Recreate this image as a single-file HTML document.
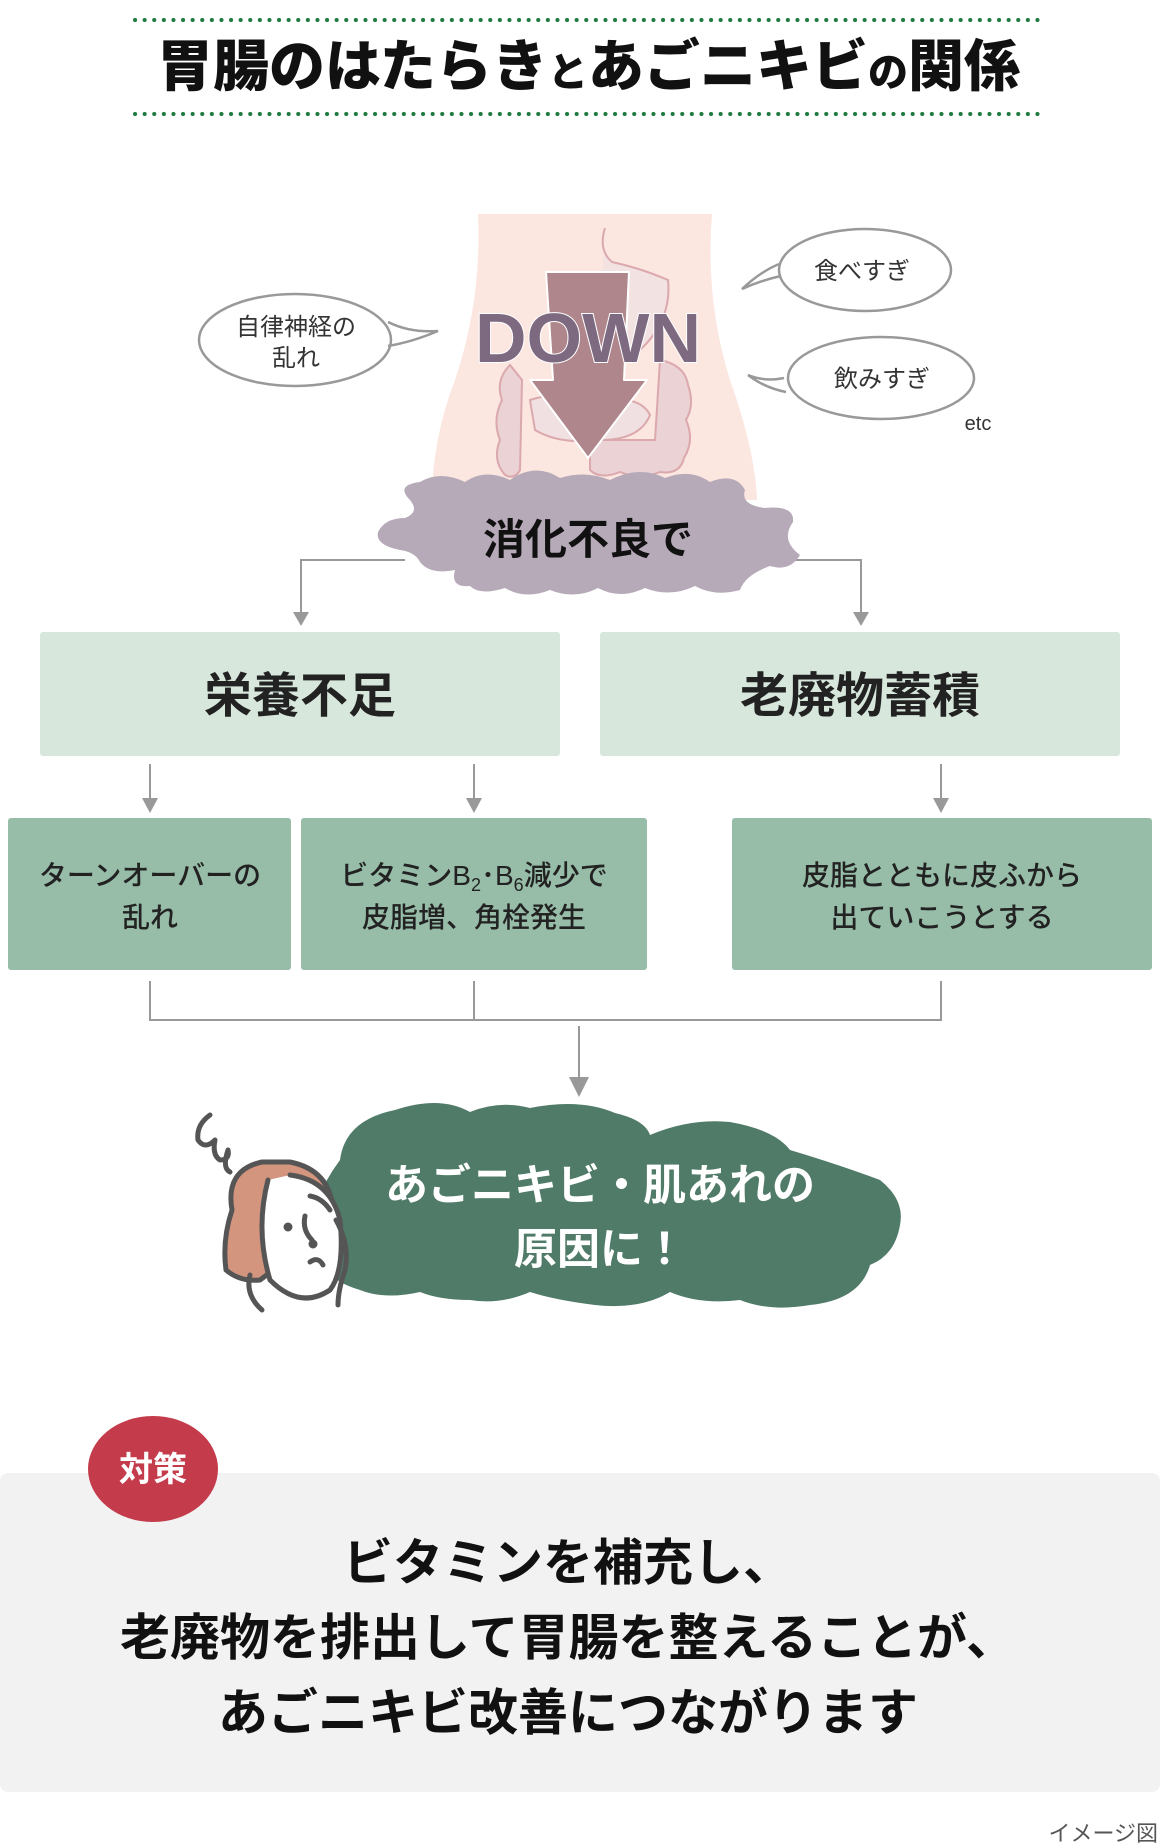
<!DOCTYPE html>
<html><head><meta charset="utf-8"><style>
html,body{margin:0;padding:0;background:#fff;}
svg{display:block;}
text{font-family:"Liberation Sans","Noto Sans CJK JP",sans-serif;}
</style></head><body>
<svg width="1160" height="1848" viewBox="0 0 1160 1848" xmlns="http://www.w3.org/2000/svg">
<!-- title -->
<line x1="135" y1="20" x2="1040" y2="20" stroke="#1f7a3f" stroke-width="4" stroke-dasharray="0.1 9.5" stroke-linecap="round"/>
<line x1="135" y1="114" x2="1040" y2="114" stroke="#1f7a3f" stroke-width="4" stroke-dasharray="0.1 9.5" stroke-linecap="round"/>
<text x="157" y="86" font-size="56" font-weight="900" fill="#111" textLength="863" lengthAdjust="spacingAndGlyphs">胃腸のはたらき<tspan font-size="40">と</tspan>あごニキビ<tspan font-size="40">の</tspan>関係</text>

<!-- body -->
<path d="M478 214 L712 214 Q705 300 730 380 Q755 450 757 500 L432 500 Q432 440 455 380 Q482 300 478 214 Z" fill="#fbe6e0"/>
<path d="M605 228 Q598 250 612 262 Q640 268 668 280 Q672 320 640 350 Q610 360 600 340" fill="#f2e2e2" stroke="#dba8ad" stroke-width="2"/>
<path d="M510 365 Q495 380 502 400 Q492 420 500 440 Q492 460 505 475 Q515 480 520 470 L522 380 Z" fill="#ead2d5" stroke="#dba8ad" stroke-width="2"/>
<path d="M660 360 Q685 365 688 385 Q695 405 686 420 Q695 440 684 458 Q680 475 660 472 Q640 480 620 472 Q600 480 590 470 L590 440 L655 440 Z" fill="#ead2d5" stroke="#dba8ad" stroke-width="2"/>
<path d="M530 400 Q560 390 600 400 Q640 395 650 415 Q640 440 600 440 Q560 445 535 430 Z" fill="#f0e0e2" stroke="#dba8ad" stroke-width="2"/>
<path d="M546 272 L629 272 L624 380 L647 380 L588 458 L530 380 L553 380 Z" fill="#af868b" stroke="#fff" stroke-width="2" stroke-linejoin="round"/>
<text x="475" y="362" font-size="70" font-weight="900" fill="#7e6a80" stroke="#fff" stroke-width="2" paint-order="stroke" textLength="226" lengthAdjust="spacingAndGlyphs" font-family="'DejaVu Sans','Liberation Sans',sans-serif">DOWN</text>

<!-- bubbles -->
<g fill="#fff" stroke="#999" stroke-width="2.5">
<ellipse cx="295" cy="340" rx="96" ry="46"/>
<ellipse cx="865" cy="270" rx="86" ry="41"/>
<ellipse cx="881" cy="378" rx="93" ry="41"/>
</g>
<g fill="none" stroke="#999" stroke-width="2.5">
<path d="M388 322 Q410 333 438 331 Q412 342 388 346"/>
<path d="M779 264 Q760 272 742 289 Q762 280 781 276"/>
<path d="M784 378 Q765 382 748 375 Q765 388 786 392"/>
</g>
<text x="296" y="335" text-anchor="middle" font-size="24" fill="#333">自律神経の</text>
<text x="296" y="366" text-anchor="middle" font-size="24" fill="#333">乱れ</text>
<text x="862" y="279" text-anchor="middle" font-size="24" fill="#333">食べすぎ</text>
<text x="882" y="387" text-anchor="middle" font-size="24" fill="#333">飲みすぎ</text>
<text x="978" y="430" text-anchor="middle" font-size="20" fill="#333">etc</text>

<!-- connectors top -->
<g stroke="#999" stroke-width="2" fill="none">
<polyline points="405,560 301,560 301,612"/>
<polyline points="775,560 861,560 861,612"/>
</g>
<g fill="#999">
<path d="M293 612 L309 612 L301 626 Z"/>
<path d="M853 612 L869 612 L861 626 Z"/>
</g>

<!-- gray cloud -->
<path d="M410 500 Q395 485 420 482 Q440 470 465 482 Q485 468 510 480 Q535 462 560 478 Q585 470 610 480 Q640 465 665 478 Q690 468 710 482 Q735 472 745 490 Q740 505 765 508 Q795 505 793 522 Q780 540 800 555 Q790 572 770 566 Q745 575 740 590 Q715 597 695 586 Q670 598 645 588 Q620 600 598 588 Q575 600 550 590 Q525 600 505 588 Q480 596 470 586 Q450 588 455 570 Q430 575 420 562 Q415 552 400 550 Q375 545 378 532 Q385 518 405 518 Q420 512 410 500 Z" fill="#b6aab8"/>
<text x="588" y="554" text-anchor="middle" font-size="42" font-weight="700" fill="#111">消化不良で</text>

<!-- level 1 boxes -->
<rect x="40" y="632" width="520" height="124" rx="3" fill="#d7e7dc"/>
<rect x="600" y="632" width="520" height="124" rx="3" fill="#d7e7dc"/>
<text x="300" y="712" text-anchor="middle" font-size="48" font-weight="700" fill="#222">栄養不足</text>
<text x="860" y="712" text-anchor="middle" font-size="48" font-weight="700" fill="#222">老廃物蓄積</text>

<g stroke="#999" stroke-width="2">
<line x1="150" y1="764" x2="150" y2="800"/>
<line x1="474" y1="764" x2="474" y2="800"/>
<line x1="941" y1="764" x2="941" y2="800"/>
</g>
<g fill="#999">
<path d="M142 798 L158 798 L150 813 Z"/>
<path d="M466 798 L482 798 L474 813 Z"/>
<path d="M933 798 L949 798 L941 813 Z"/>
</g>

<!-- level 2 boxes -->
<rect x="8" y="818" width="283" height="152" rx="3" fill="#97bda9"/>
<rect x="301" y="818" width="346" height="152" rx="3" fill="#97bda9"/>
<rect x="732" y="818" width="420" height="152" rx="3" fill="#97bda9"/>
<g font-size="28" fill="#222" text-anchor="middle" font-weight="500">
<text x="150" y="885">ターンオーバーの</text>
<text x="150" y="927">乱れ</text>
<text x="474" y="885">ビタミンB<tspan font-size="18" dy="6">2</tspan><tspan dy="-6">･B</tspan><tspan font-size="18" dy="6">6</tspan><tspan dy="-6">減少で</tspan></text>
<text x="474" y="927">皮脂増、角栓発生</text>
<text x="942" y="885">皮脂とともに皮ふから</text>
<text x="942" y="927">出ていこうとする</text>
</g>

<g stroke="#999" stroke-width="2" fill="none">
<polyline points="150,981 150,1020 941,1020 941,981"/>
<line x1="474" y1="981" x2="474" y2="1020"/>
<line x1="579" y1="1026" x2="579" y2="1080"/>
</g>
<path d="M569 1077 L589 1077 L579 1097 Z" fill="#999"/>

<!-- green cloud -->
<path d="M340 1160 Q345 1120 395 1110 Q440 1095 470 1112 Q500 1100 530 1108 Q580 1098 615 1113 Q645 1120 650 1135 Q690 1118 730 1122 Q775 1130 790 1150 Q840 1165 880 1180 Q905 1200 900 1225 Q895 1255 870 1265 Q860 1300 810 1305 Q770 1312 740 1300 Q700 1305 670 1292 Q640 1310 595 1305 Q555 1300 530 1292 Q500 1305 470 1300 Q440 1300 420 1292 Q385 1300 360 1290 Q325 1280 320 1255 Q305 1230 315 1205 Q325 1180 340 1160 Z" fill="#507b68"/>
<text x="600" y="1200" text-anchor="middle" font-size="43" font-weight="700" fill="#fff">あごニキビ・肌あれの</text>
<text x="600" y="1264" text-anchor="middle" font-size="43" font-weight="700" fill="#fff">原因に！</text>

<!-- woman -->
<g stroke="#555" stroke-width="5" fill="none" stroke-linecap="round" stroke-linejoin="round">
<path d="M210 1115 Q196 1125 198 1140 Q205 1150 215 1140 Q212 1155 220 1160 Q230 1160 228 1150 Q222 1168 230 1172"/>
<path d="M262 1162 Q225 1170 232 1210 Q222 1240 226 1270 Q240 1282 260 1280 L300 1250 Q330 1230 333 1210 Q330 1170 290 1162 Z" fill="#d4957f"/>
<path d="M268 1180 Q255 1230 270 1280 Q300 1310 330 1290 Q345 1270 340 1220 Q330 1180 290 1175" fill="#fff"/>
<path d="M310 1196 Q322 1198 330 1210"/>
<path d="M305 1216 Q302 1230 312 1240"/>
<circle cx="288" cy="1227" r="2" fill="#555"/>
<circle cx="313" cy="1244" r="2" fill="#555"/>
<path d="M310 1262 Q318 1256 323 1265"/>
<path d="M336 1220 Q350 1245 345 1270 Q338 1290 338 1305"/>
<path d="M250 1275 Q245 1295 262 1310"/>
</g>

<!-- bottom box -->
<rect x="0" y="1473" width="1160" height="319" rx="8" fill="#f2f2f2"/>
<ellipse cx="153" cy="1469" rx="65" ry="53" fill="#c43c4c"/>
<text x="153" y="1481" text-anchor="middle" font-size="34" font-weight="700" fill="#fff">対策</text>
<g font-size="50" font-weight="700" fill="#111" text-anchor="middle">
<text x="568" y="1580">ビタミンを補充し、</text>
<text x="568" y="1655">老廃物を排出して胃腸を整えることが、</text>
<text x="568" y="1730">あごニキビ改善につながります</text>
</g>
<text x="1158" y="1841" text-anchor="end" font-size="22" fill="#555">イメージ図</text>
</svg>
</body></html>
